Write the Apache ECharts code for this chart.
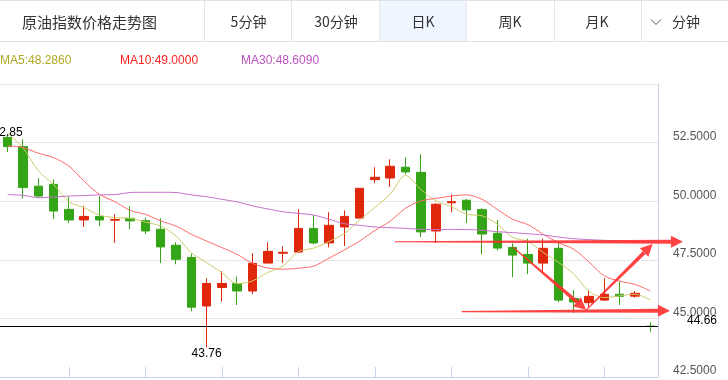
<!DOCTYPE html>
<html>
<head>
<meta charset="utf-8">
<script src="https://cdn.jsdelivr.net/npm/echarts/dist/echarts.min.js"></script>
<style>
html,body{margin:0;padding:0;background:#fff;}
#c{width:728px;height:380px;}
</style>
</head>
<body>
<div id="c"></div>
<script>
// ---- data ----
const categories = ['1','2','3','4','5','6','7','8','9','10','11','12','13','14','15','16','17','18','19','20','21','22','23','24','25','26','27','28','29','30','31','32','33','34','35','36','37','38','39','40','41','42','43'];
const openPrices  = [52.72,52.33,50.64,50.72,49.65,49.20,49.35,49.19,49.27,49.17,48.80,48.12,47.60,45.53,46.32,46.49,46.17,47.36,47.78,47.83,48.84,48.22,48.90,49.28,50.92,50.99,51.45,51.23,48.73,49.93,50.04,49.64,48.63,48.03,47.73,47.36,47.99,45.85,45.67,45.78,46.03,45.95,44.67];
const closePrices = [52.33,50.58,50.22,49.58,49.20,49.35,49.20,49.22,49.16,48.73,48.05,47.52,45.48,46.49,46.49,46.17,47.35,47.86,47.82,48.84,48.22,48.97,49.35,50.55,51.02,51.49,51.25,48.69,49.87,49.98,49.63,48.60,48.00,47.70,47.36,47.99,45.78,45.70,45.94,46.03,45.94,46.07,44.66];
const lowPrices   = [52.10,50.11,50.15,49.24,49.07,48.90,48.94,48.22,48.81,48.60,47.36,47.31,45.31,43.76,45.73,45.57,46.04,47.36,47.36,47.79,48.16,48.03,48.09,49.28,50.76,50.61,51.15,48.47,48.22,49.53,49.07,47.73,47.90,46.76,46.89,46.98,45.70,45.23,45.48,45.75,45.57,45.88,44.43];
const highPrices  = [52.85,52.64,50.98,50.93,50.19,49.80,50.22,49.44,49.78,49.30,49.27,48.25,47.76,46.71,47.01,46.79,47.78,48.25,48.07,49.65,49.40,49.53,49.61,50.55,51.45,51.79,51.87,52.00,49.92,50.29,50.10,49.70,49.20,48.20,48.40,48.40,48.22,46.21,46.21,46.71,46.58,46.17,44.83];
const ma5  = [52.90,52.28,51.30,50.72,49.98,49.72,49.41,49.30,49.27,49.11,48.94,48.52,47.80,47.38,46.95,46.48,46.60,46.96,47.24,47.85,48.00,48.28,48.62,49.20,49.73,50.30,51.10,50.50,50.01,49.77,49.44,49.38,49.02,48.45,48.286,47.81,47.39,46.89,46.15,45.89,45.96,46.03,45.79];
const ma10 = [52.36,52.29,52.05,51.86,51.50,50.85,50.29,49.98,49.61,49.44,49.16,48.94,48.59,48.30,48.02,47.73,47.35,47.15,47.10,47.14,47.23,47.57,47.92,48.30,48.75,49.15,49.70,50.01,50.12,50.22,50.27,50.08,49.65,49.23,49.00,48.59,48.23,47.95,47.40,46.81,46.59,46.45,46.17];
const ma30 = [50.28,50.25,50.15,50.18,50.22,50.24,50.27,50.28,50.37,50.38,50.38,50.37,50.27,50.19,50.08,49.97,49.80,49.67,49.55,49.48,49.41,49.23,49.04,48.97,48.90,48.87,48.84,48.80,48.79,48.79,48.79,48.76,48.70,48.66,48.609,48.56,48.47,48.40,48.36,48.33,48.30,48.27,48.25];
const maNames = ['MA5','MA10','MA30'];
const maLegendValues = ['48.2860','49.0000','48.6090'];
const titleText = '原油指数价格走势图';
const tabLabels = ['5分钟','30分钟','日K','周K','月K','分钟'];
const yMin = 42.5, yMax = 55, yStep = 2.5;
// annotation arrows in data units: [category index, price]
const arrowStart = [[25.31,48.27],[29.67,45.29],[33.0,48.05],[37.8,45.35]];
const arrowEnd   = [[44.13,48.27],[43.28,45.33],[37.8,45.37],[42.15,48.17]];

// ---- build ----
const candleData = categories.map((_, i) => [openPrices[i], closePrices[i], lowPrices[i], highPrices[i]]);
const lastClose = closePrices[closePrices.length - 1];
const arrowData = arrowStart.map((s, i) => [s[0], s[1], arrowEnd[i][0], arrowEnd[i][1]]);

const UP = '#e0260b', DOWN = '#33a516';
const maLineColors = ['#cfcb6c', '#ff6a6a', '#c670c8'];
const maTextColors = ['#b0a822', '#ff2222', '#bd52c2'];
const cjk = "'Noto Sans CJK SC', 'Noto Sans', sans-serif";
const latin = "'Liberation Sans', Arial, sans-serif";

const chart = echarts.init(document.getElementById('c'), null, {renderer: 'canvas'});

const graphics = [];
// header
graphics.push({type:'rect', shape:{x:379.5, y:1, width:87, height:40}, style:{fill:'#eef5fe'}, silent:true});
graphics.push({type:'line', shape:{x1:0, y1:0.5, x2:728, y2:0.5}, style:{stroke:'#e2e2e2', lineWidth:1}, silent:true});
graphics.push({type:'line', shape:{x1:0, y1:41.5, x2:728, y2:41.5}, style:{stroke:'#e2e2e2', lineWidth:1}, silent:true});
[204.5, 291.5, 379.5, 466.5, 554.5, 641.5].forEach(x => {
  graphics.push({type:'line', shape:{x1:x, y1:0, x2:x, y2:41}, style:{stroke:'#e6e6e6', lineWidth:1}, silent:true});
});
graphics.push({type:'text', x:22, y:22, style:{text:titleText, font:'15px ' + cjk, fill:'#333', textVerticalAlign:'middle', verticalAlign:'middle'}, silent:true});
const tabCenters = [248.5, 336, 423, 510, 597, 686];
tabLabels.forEach((t, i) => {
  graphics.push({type:'text', x:tabCenters[i], y:22, style:{text:t, font:'14px ' + cjk, fill:'#333', align:'center', textAlign:'center', verticalAlign:'middle', textVerticalAlign:'middle'}, silent:true});
});
graphics.push({type:'polyline', shape:{points:[[651,19.5],[656,24.5],[661,19.5]]}, style:{stroke:'#555', lineWidth:1, fill:null}, silent:true});
// MA legend
const legendX = [0, 120, 241];
maNames.forEach((n, i) => {
  graphics.push({type:'text', x:legendX[i], y:60.5, style:{text:n + ':' + maLegendValues[i], font:'12px ' + latin, fill:maTextColors[i], verticalAlign:'middle', textVerticalAlign:'middle'}, silent:true});
});

const option = {
  animation: false,
  backgroundColor: '#fff',
  grid: {left:0, right:70, top:84, bottom:3, containLabel:false, outerBoundsMode:'none'},
  xAxis: [
    {
      type:'category', data:categories, boundaryGap:true,
      axisLine:{show:true, onZero:false, lineStyle:{color:'#c8d5e8', width:1}},
      axisTick:{show:true, inside:true, length:10, alignWithLabel:true,
        interval:(idx) => idx % 5 === 4, lineStyle:{color:'#c8d5e8'}},
      axisLabel:{show:false},
      splitLine:{show:false}
    },
    {type:'value', min:-0.5, max:categories.length - 0.5, show:false, axisLine:{onZero:false}}
  ],
  yAxis: [{
    type:'value', position:'right', min:yMin, max:yMax, interval:yStep, scale:true,
    axisLine:{show:true, onZero:false, lineStyle:{color:'#c8d5e8'}},
    axisTick:{show:false},
    splitLine:{show:true, lineStyle:{color:'#e6e6e6', width:1}},
    axisLabel:{show:true, showMaxLabel:false, margin:15, color:'#555', fontSize:12, fontFamily:latin,
      verticalAlign:'bottom', formatter:(v) => v.toFixed(4)}
  }],
  graphic: graphics,
  series: [
    {
      name:'K', type:'candlestick', data:candleData, barWidth:9,
      itemStyle:{color:UP, color0:DOWN, borderColor:UP, borderColor0:DOWN, borderWidth:1},
      markPoint:{
        symbol:'rect', symbolSize:1, silent:true,
        itemStyle:{color:'rgba(0,0,0,0)'},
        label:{show:true, position:'inside', color:'#000', fontSize:12, fontFamily:latin,
          formatter:(p) => Number(p.value).toFixed(2)},
        data:[
          {type:'max', valueDim:'highest', label:{offset:[0,-2]}},
          {type:'min', valueDim:'lowest', label:{offset:[0,6]}}
        ]
      },
      markLine:{
        symbol:['none','none'], silent:true, animation:false,
        label:{show:false},
        lineStyle:{color:'#000', width:1, type:'solid'},
        data:[{yAxis:lastClose}]
      }
    },
    {name:'MA5', type:'line', data:ma5, showSymbol:false, smooth:0.3, lineStyle:{width:1, color:maLineColors[0]}, itemStyle:{color:maLineColors[0]}, z:3, silent:true},
    {name:'MA10', type:'line', data:ma10, showSymbol:false, smooth:0.3, lineStyle:{width:1, color:maLineColors[1]}, itemStyle:{color:maLineColors[1]}, z:3, silent:true},
    {name:'MA30', type:'line', data:ma30, showSymbol:false, smooth:0.3, lineStyle:{width:1, color:maLineColors[2]}, itemStyle:{color:maLineColors[2]}, z:3, silent:true},
    {
      name:'arrows', type:'custom', xAxisIndex:1, yAxisIndex:0, data:arrowData, clip:false, silent:true, z:10,
      encode:{x:[0,2], y:[1,3]},
      renderItem:(params, api) => {
        const p0 = api.coord([api.value(0), api.value(1)]);
        const p1 = api.coord([api.value(2), api.value(3)]);
        const dx = p1[0] - p0[0], dy = p1[1] - p0[1];
        const len = Math.sqrt(dx*dx + dy*dy) || 1;
        const ux = dx/len, uy = dy/len, nx = -uy, ny = ux;
        const headLen = 12, headHalf = 6, w0 = 0.6, w1 = 2.0;
        const b = [p1[0] - ux*headLen, p1[1] - uy*headLen];
        const fill = 'rgba(255,45,45,0.9)';
        return {type:'group', children:[
          {type:'polygon', shape:{points:[[p0[0]+nx*w0, p0[1]+ny*w0],[b[0]+nx*w1, b[1]+ny*w1],[b[0]-nx*w1, b[1]-ny*w1],[p0[0]-nx*w0, p0[1]-ny*w0]]}, style:{fill:fill}},
          {type:'polygon', shape:{points:[[p1[0], p1[1]],[b[0]+nx*headHalf, b[1]+ny*headHalf],[b[0]-nx*headHalf, b[1]-ny*headHalf]]}, style:{fill:fill}}
        ]};
      }
    },
    {
      name:'lastPrice', type:'custom', xAxisIndex:1, yAxisIndex:0, data:[[categories.length - 0.5, lastClose]], clip:false, silent:true, z:11,
      encode:{x:0, y:1},
      renderItem:(params, api) => {
        const p = api.coord([api.value(0), api.value(1)]);
        return {type:'text', x:p[0] + 59, y:p[1], style:{text:api.value(1).toFixed(2), font:'12px ' + latin, fill:'#000', align:'right', textAlign:'right', verticalAlign:'bottom', textVerticalAlign:'bottom'}};
      }
    }
  ]
};
chart.setOption(option);
</script>
</body>
</html>
